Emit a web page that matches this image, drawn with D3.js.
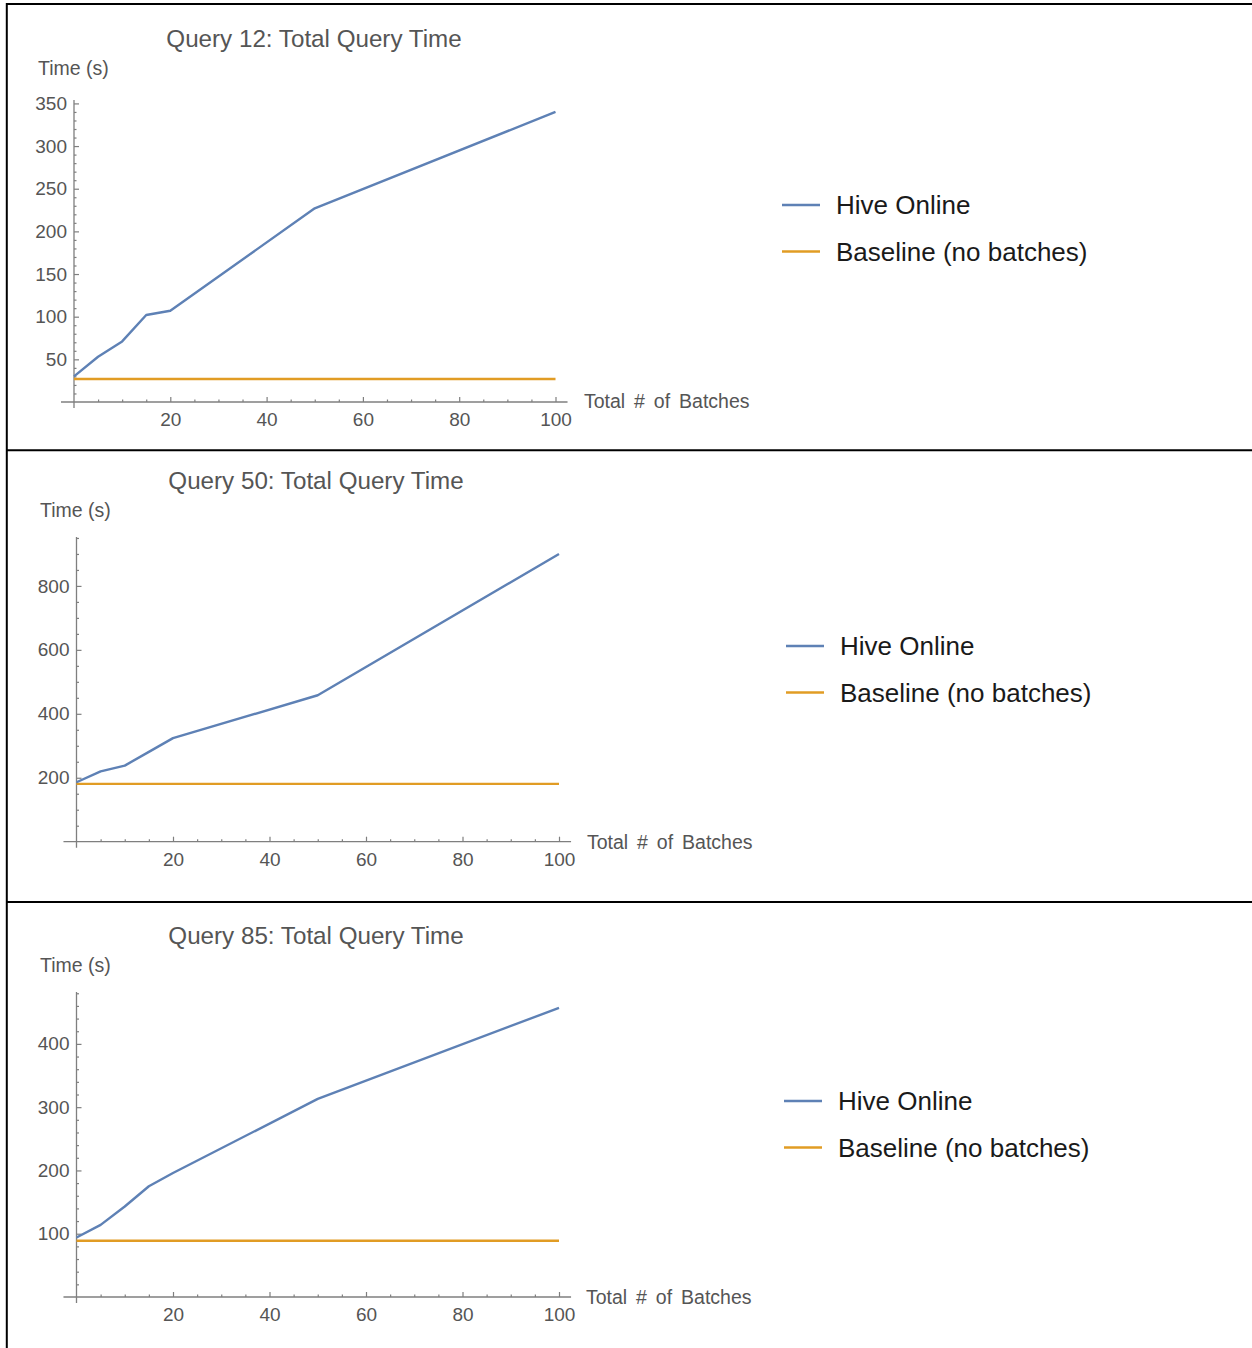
<!DOCTYPE html>
<html>
<head>
<meta charset="utf-8">
<script src="https://cdn.jsdelivr.net/npm/d3@7"></script>
<style>
  html, body { margin: 0; padding: 0; background: #fff; }
  svg { display: block; }
  text { font-family: "Liberation Sans", Arial, Helvetica, sans-serif; }
</style>
</head>
<body>
<svg id="chart" width="1252" height="1348"></svg>
<script>
// ---- data ----
const batches = [0, 5, 10, 15, 20, 50, 100];
const baselineRange = [0, 100];
const seriesNames = ["Hive Online", "Baseline (no batches)"];
const titles = ["Query 12: Total Query Time", "Query 50: Total Query Time", "Query 85: Total Query Time"];
const q12Hive = [30, 53, 71, 102, 107, 227, 340];
const q12Baseline = 27;
const q50Hive = [186, 220, 238, 281, 324, 458, 900];
const q50Baseline = 181;
const q85Hive = [94, 114, 143, 175, 196, 313, 457];
const q85Baseline = 89;
const xMajorTicks = [20, 40, 60, 80, 100];
const q12YMajor = [50, 100, 150, 200, 250, 300, 350];
const q50YMajor = [200, 400, 600, 800];
const q85YMajor = [100, 200, 300, 400];
const q12YMinorStep = 10, q50YMinorStep = 50, q85YMinorStep = 20;
const q12YTop = 354, q50YTop = 953, q85YTop = 482;

// ---- layout / style ----
const colors = ["#5E81B5", "#E19C24"];
const panels = [
  { title: titles[0], hive: q12Hive, base: q12Baseline, yMajor: q12YMajor, yMinorStep: q12YMinorStep, yTop: q12YTop,
    x0: 74, x100: 555.5, y0: 402, yTopPx: 100, titleX: 314, titleY: 47, ylabX: 38, ylabY: 75,
    xlabX: 584, xlabY: 408, legX: 782, legY: 205 },
  { title: titles[1], hive: q50Hive, base: q50Baseline, yMajor: q50YMajor, yMinorStep: q50YMinorStep, yTop: q50YTop,
    x0: 76.5, x100: 559, y0: 841.7, yTopPx: 537, titleX: 316, titleY: 489, ylabX: 40, ylabY: 517,
    xlabX: 587, xlabY: 849, legX: 786, legY: 646 },
  { title: titles[2], hive: q85Hive, base: q85Baseline, yMajor: q85YMajor, yMinorStep: q85YMinorStep, yTop: q85YTop,
    x0: 76.5, x100: 559, y0: 1297, yTopPx: 992, titleX: 316, titleY: 944, ylabX: 40, ylabY: 972,
    xlabX: 586, xlabY: 1304, legX: 784, legY: 1101 }
];

const svg = d3.select("#chart");

// frame lines
const frame = svg.append("g").attr("stroke", "#000").attr("stroke-width", 2);
frame.append("line").attr("x1", 6).attr("x2", 1252).attr("y1", 4).attr("y2", 4);
frame.append("line").attr("x1", 6.8).attr("x2", 6.8).attr("y1", 3).attr("y2", 1348);
frame.append("line").attr("x1", 6).attr("x2", 1252).attr("y1", 450.3).attr("y2", 450.3);
frame.append("line").attr("x1", 6).attr("x2", 1252).attr("y1", 902).attr("y2", 902);

const axisColor = "#7f7f7f";
const labelColor = "#555";

panels.forEach(p => {
  const x = d3.scaleLinear().domain([0, 100]).range([p.x0, p.x100]);
  const y = d3.scaleLinear().domain([0, p.yTop]).range([p.y0, p.yTopPx]);
  const g = svg.append("g");

  // axis lines
  g.append("line").attr("x1", x(-2.7)).attr("x2", x(102.5)).attr("y1", y(0)).attr("y2", y(0))
    .attr("stroke", axisColor).attr("stroke-width", 1.3);
  g.append("line").attr("x1", x(0)).attr("x2", x(0)).attr("y1", y(0) + 6).attr("y2", y(p.yTop))
    .attr("stroke", axisColor).attr("stroke-width", 1.3);

  // x ticks
  const xMinor = d3.range(5, 101, 5).filter(v => !xMajorTicks.includes(v));
  const xMinAx = g.append("g").attr("transform", `translate(0,${y(0)})`)
    .call(d3.axisBottom(x).tickValues(xMinor).tickSize(-2.5).tickFormat(""));
  const xMajAx = g.append("g").attr("transform", `translate(0,${y(0)})`)
    .call(d3.axisBottom(x).tickValues(xMajorTicks).tickSize(-5).tickPadding(11).tickFormat(d3.format("d")));
  [xMinAx, xMajAx].forEach(a => {
    a.select(".domain").remove();
    a.selectAll("line").attr("stroke", axisColor).attr("stroke-width", 1.2);
    a.selectAll("text").attr("fill", labelColor).attr("font-size", 19)
      .attr("font-family", '"Liberation Sans", Arial, sans-serif');
  });

  // y ticks
  const yMinor = d3.range(p.yMinorStep, p.yTop, p.yMinorStep).filter(v => !p.yMajor.includes(v));
  const yMinAx = g.append("g").attr("transform", `translate(${x(0)},0)`)
    .call(d3.axisLeft(y).tickValues(yMinor).tickSize(-2.5).tickFormat(""));
  const yMajAx = g.append("g").attr("transform", `translate(${x(0)},0)`)
    .call(d3.axisLeft(y).tickValues(p.yMajor).tickSize(-5).tickPadding(7).tickFormat(d3.format("d")));
  [yMinAx, yMajAx].forEach(a => {
    a.select(".domain").remove();
    a.selectAll("line").attr("stroke", axisColor).attr("stroke-width", 1.2);
    a.selectAll("text").attr("fill", labelColor).attr("font-size", 19)
      .attr("font-family", '"Liberation Sans", Arial, sans-serif');
  });

  // series
  const line = d3.line().x(d => x(d[0])).y(d => y(d[1]));
  g.append("path").datum(baselineRange.map(b => [b, p.base]))
    .attr("d", line).attr("fill", "none").attr("stroke", colors[1]).attr("stroke-width", 2.4);
  g.append("path").datum(batches.map((b, i) => [b, p.hive[i]]))
    .attr("d", line).attr("fill", "none").attr("stroke", colors[0]).attr("stroke-width", 2.4)
    .attr("stroke-linejoin", "round");

  // texts
  g.append("text").attr("x", p.titleX).attr("y", p.titleY).attr("text-anchor", "middle")
    .attr("font-size", 24.2).attr("fill", labelColor).text(p.title);
  g.append("text").attr("x", p.ylabX).attr("y", p.ylabY)
    .attr("font-size", 19.5).attr("fill", labelColor).text("Time (s)");
  g.append("text").attr("x", p.xlabX).attr("y", p.xlabY)
    .attr("font-size", 19.5).attr("fill", labelColor).attr("word-spacing", 3.5).text("Total # of Batches");

  // legend
  const leg = g.append("g");
  seriesNames.forEach((name, i) => {
    const ly = p.legY + i * 46.5;
    leg.append("line").attr("x1", p.legX).attr("x2", p.legX + 38).attr("y1", ly).attr("y2", ly)
      .attr("stroke", colors[i]).attr("stroke-width", 2.3);
    leg.append("text").attr("x", p.legX + 54).attr("y", ly).attr("dy", "0.35em")
      .attr("font-size", 26).attr("fill", "#1a1a1a").text(name);
  });
});
</script>
</body>
</html>
